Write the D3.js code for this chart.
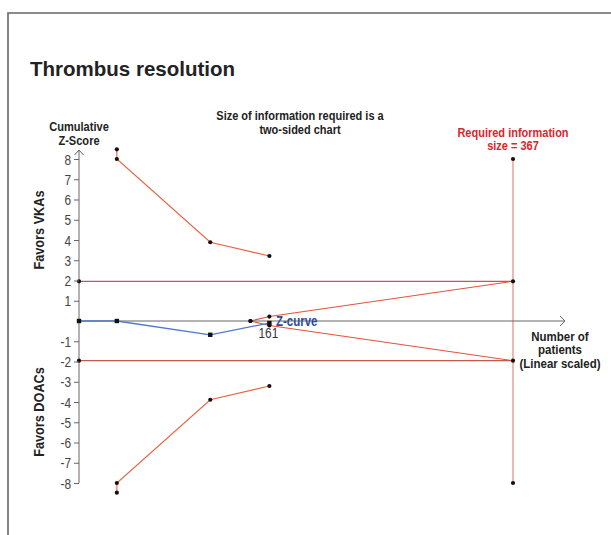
<!DOCTYPE html>
<html>
<head>
<meta charset="utf-8">
<script src="https://cdn.jsdelivr.net/npm/d3@7"></script>
<style>
  html, body { margin: 0; padding: 0; background: #fff; }
  svg { display: block; font-family: "Liberation Sans", Arial, Helvetica, sans-serif; }
</style>
</head>
<body>
<svg id="chart" width="611" height="535"></svg>
<script>
// Trial sequential analysis: thrombus resolution, DOACs vs VKAs

// Cumulative number of patients at each analysis
const patients = [0, 32, 111, 161];
// Cumulative Z-score at each analysis
const zCurve = [0, 0, -0.68, -0.1];

// Alpha-spending (monitoring) boundaries, truncated display at +/-8
const alphaPatients = [32, 32, 111, 161];
const alphaUpper = [8.48, 8, 3.89, 3.21];
const alphaLower = [-8.48, -8, -3.89, -3.21];

// Inner (futility) wedge
const futilityPatients = [145, 161, 367];
const futilityUpper = [0, 0.22, 1.96];
const futilityLower = [0, -0.22, -1.96];

// Conventional significance boundary
const conventionalZ = [1.96, -1.96];

// Required information size
const requiredSize = 367;
const risRange = [8, -8];

// Axis ticks
const yTicks = [-8, -7, -6, -5, -4, -3, -2, -1, 1, 2, 3, 4, 5, 6, 7, 8];

const svg = d3.select("#chart");
const NARROW = 0.82; // horizontal squeeze for condensed labels

const x = d3.scaleLinear().domain([0, 367]).range([79, 513]);
const y = d3.scaleLinear().domain([-8, 8]).range([483, 159]);

// Outer frame
svg.append("path")
  .attr("d", "M8,540 L8,13 L615,13")
  .attr("fill", "none")
  .attr("stroke", "#666")
  .attr("stroke-width", 1.6);

// Condensed label; several lines become tspans of one text element
function ctext(g, px, py, lines, opt) {
  const o = Object.assign({ size: 13.5, weight: "bold", anchor: "middle", fill: "#222", rotate: 0, lead: 13, squeeze: NARROW }, opt);
  const t = g.append("text")
    .attr("transform", `translate(${px},${py})` + (o.rotate ? ` rotate(${o.rotate})` : "") + ` scale(${o.squeeze},1)`)
    .attr("text-anchor", o.anchor)
    .attr("font-size", o.size)
    .attr("font-weight", o.weight)
    .attr("fill", o.fill);
  [].concat(lines).forEach((s, i) => {
    t.append("tspan").attr("x", 0).attr("dy", i === 0 ? 0 : o.lead).text(s);
  });
  return t;
}

const line = d3.line().x(d => x(d[0])).y(d => y(d[1]));
const plot = svg.append("g");

// Conventional boundaries
conventionalZ.forEach(z => {
  plot.append("path")
    .attr("d", line([[0, z], [requiredSize, z]]))
    .attr("stroke", "#c45a4f").attr("stroke-width", 1.3).attr("fill", "none");
});

// Required information size line
plot.append("path")
  .attr("d", line([[requiredSize, risRange[0]], [requiredSize, risRange[1]]]))
  .attr("stroke", "#eba69e").attr("stroke-width", 1.6).attr("fill", "none");

// Alpha-spending boundaries
[alphaUpper, alphaLower].forEach(vals => {
  plot.append("path")
    .attr("d", line(alphaPatients.map((p, i) => [p, vals[i]])))
    .attr("stroke", "#e8623f").attr("stroke-width", 1.1).attr("fill", "none");
});

// Futility boundaries
[futilityUpper, futilityLower].forEach(vals => {
  plot.append("path")
    .attr("d", line(futilityPatients.map((p, i) => [p, vals[i]])))
    .attr("stroke", "#e4513c").attr("stroke-width", 1.1).attr("fill", "none");
});

// Axes
const axisColor = "#666";
const y0 = y(0);
plot.append("line")
  .attr("x1", x(0)).attr("x2", 565).attr("y1", y0).attr("y2", y0)
  .attr("stroke", axisColor).attr("stroke-width", 1);
plot.append("path")
  .attr("d", `M560,${y0 - 5} L565,${y0} L560,${y0 + 5}`)
  .attr("fill", "none").attr("stroke", axisColor).attr("stroke-width", 1);

plot.append("line")
  .attr("x1", x(0)).attr("x2", x(0)).attr("y1", y(-8)).attr("y2", 150)
  .attr("stroke", axisColor).attr("stroke-width", 1);
plot.append("path")
  .attr("d", `M${x(0) - 4.5},155 L${x(0)},150 L${x(0) + 4.5},155`)
  .attr("fill", "none").attr("stroke", axisColor).attr("stroke-width", 1);

const yAxis = d3.axisLeft(y)
  .tickValues(yTicks)
  .tickSize(5)
  .tickPadding(4)
  .tickFormat(d => String(d));
const yg = svg.append("g").attr("transform", `translate(${x(0)},0)`).call(yAxis);
yg.select(".domain").remove();
yg.selectAll(".tick line").attr("stroke", axisColor);
yg.selectAll(".tick text")
  .attr("font-family", "Liberation Sans, Arial, sans-serif")
  .attr("font-size", 14.5)
  .attr("fill", "#444")
  .attr("x", null).attr("dy", null)
  .attr("transform", `translate(-8,5) scale(${NARROW},1)`);

// Z-curve
plot.append("path")
  .attr("d", line(patients.map((p, i) => [p, zCurve[i]])))
  .attr("stroke", "#5078cc").attr("stroke-width", 1.3).attr("fill", "none");

// Boundary points
const dots = [];
conventionalZ.forEach(z => { dots.push([0, z]); dots.push([requiredSize, z]); });
risRange.forEach(z => dots.push([requiredSize, z]));
alphaPatients.forEach((p, i) => { dots.push([p, alphaUpper[i]]); dots.push([p, alphaLower[i]]); });
futilityPatients.slice(0, 2).forEach((p, i) => { dots.push([p, futilityUpper[i]]); dots.push([p, futilityLower[i]]); });

plot.selectAll("circle.bd").data(dots).join("circle")
  .attr("class", "bd")
  .attr("cx", d => x(d[0])).attr("cy", d => y(d[1]))
  .attr("r", 2.1).attr("fill", "#111");

plot.selectAll("rect.zp").data(patients.map((p, i) => [p, zCurve[i]])).join("rect")
  .attr("class", "zp")
  .attr("x", d => x(d[0]) - 2.2).attr("y", d => y(d[1]) - 2.2)
  .attr("width", 4.4).attr("height", 4.4).attr("fill", "#111");

// Labels
svg.append("text")
  .attr("x", 30).attr("y", 76)
  .attr("font-size", 20.5).attr("font-weight", "bold").attr("fill", "#222")
  .text("Thrombus resolution");

const stacked = { size: 12.8, lead: 13.6, squeeze: 0.86 };
ctext(svg, 79, 131, ["Cumulative", "Z-Score"], { lead: 14 });
ctext(svg, 300, 120.2, ["Size of information required is a", "two-sided chart"], stacked);
ctext(svg, 513, 136.7, ["Required information", "size = " + requiredSize], Object.assign({ fill: "#d8262c" }, stacked));
ctext(svg, 560, 340.7, ["Number of", "patients", "(Linear scaled)"], Object.assign({}, stacked, { size: 13.2, squeeze: 0.87 }));

ctext(svg, 44, 230, "Favors VKAs", { size: 15.5, rotate: -90 });
ctext(svg, 44, 412, "Favors DOACs", { size: 15.5, rotate: -90 });

ctext(svg, 276, 325.5, "Z-curve", { anchor: "start", size: 14, fill: "#2c4c9c" });
ctext(svg, x(patients[3]) - 1, 337.5, String(patients[3]), { weight: "normal", size: 14.5, fill: "#333" });
</script>
</body>
</html>
